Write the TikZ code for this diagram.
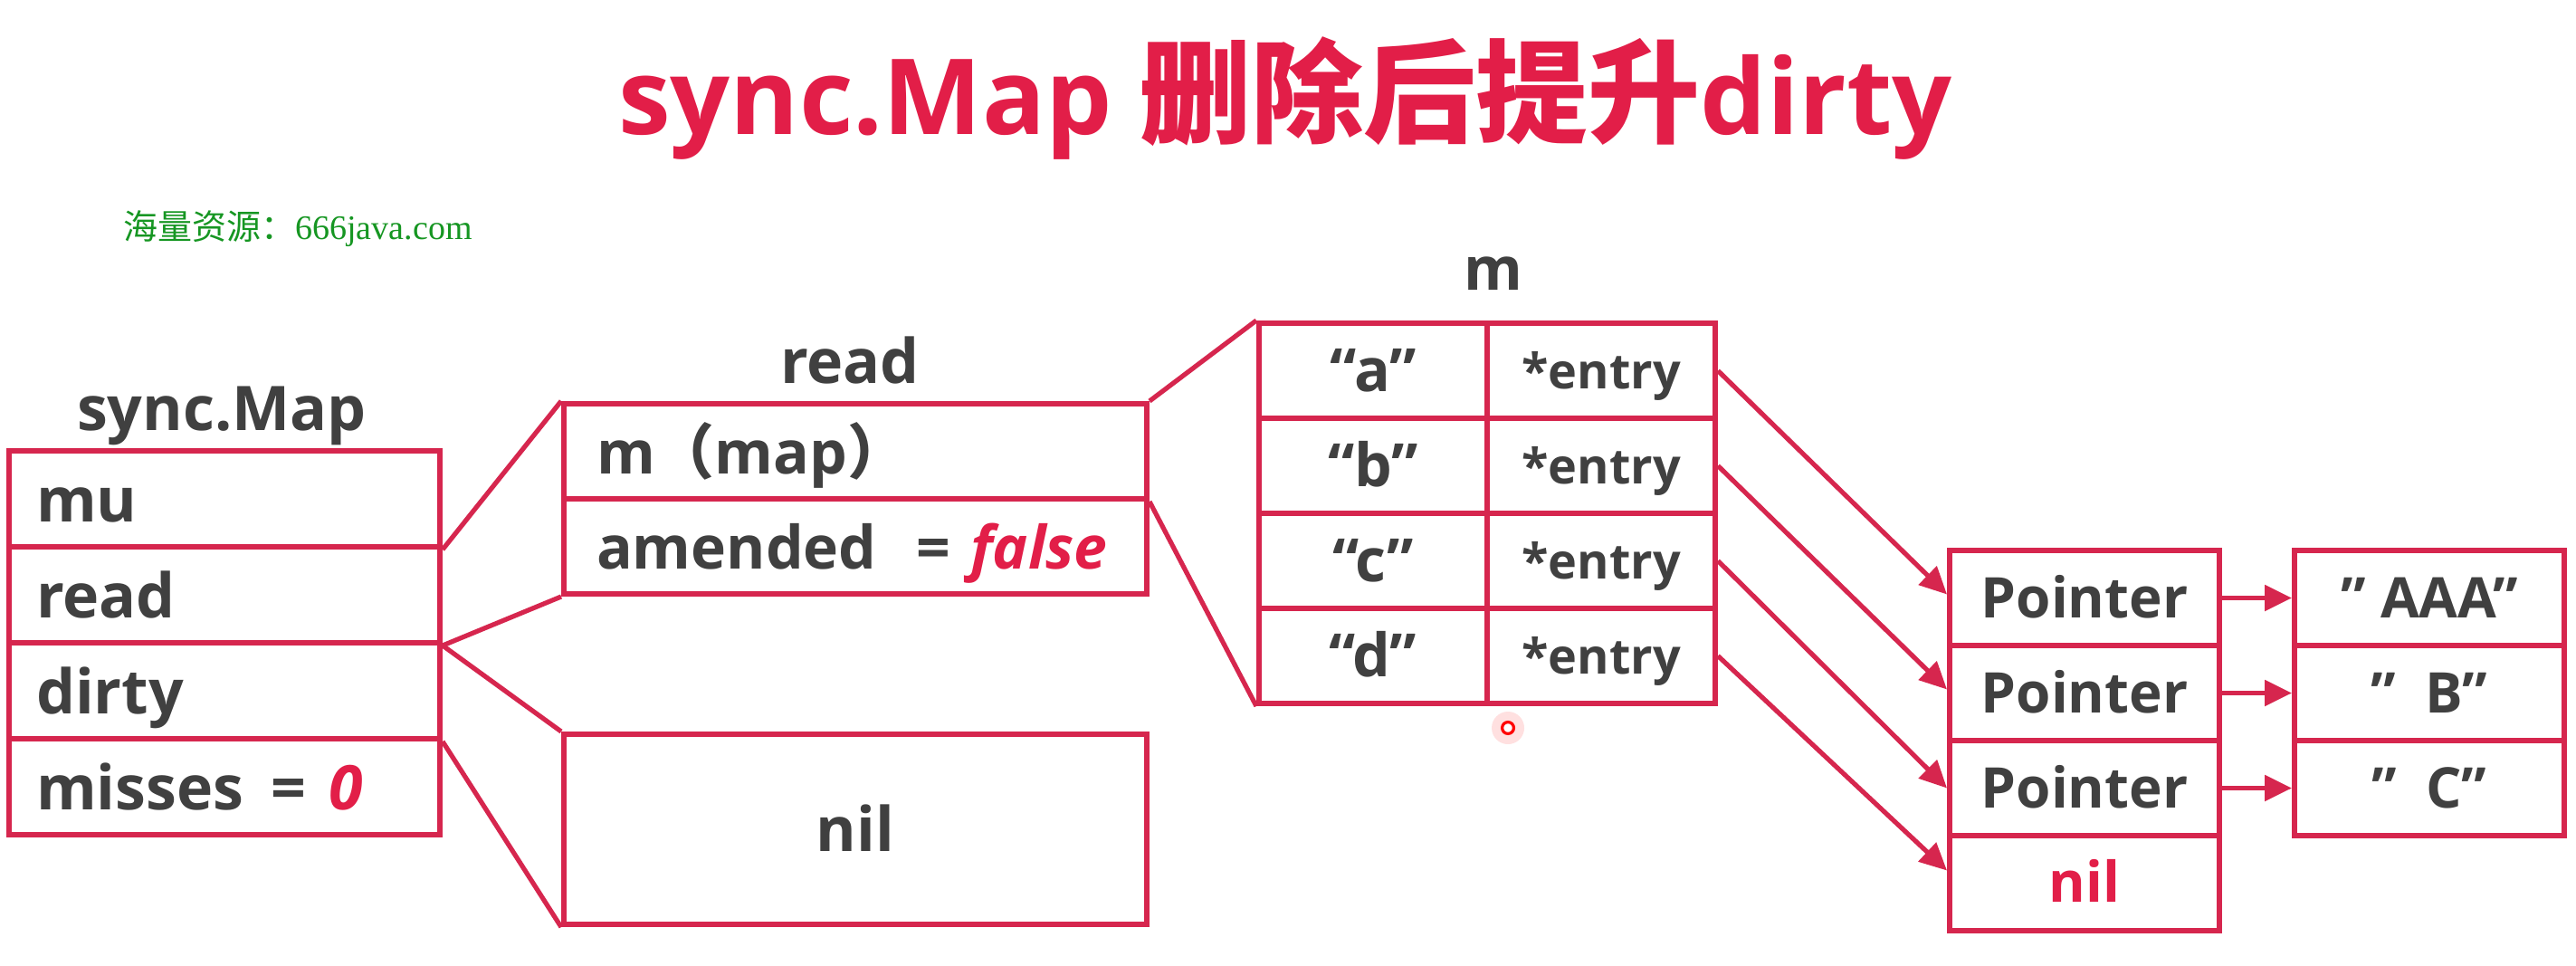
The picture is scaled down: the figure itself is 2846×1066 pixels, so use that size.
\documentclass[tikz,border=0pt]{standalone}
\usepackage{fontspec}
\setmainfont{Open Sans}
\newfontfamily\cjk{Noto Sans CJK SC}
\newfontfamily\wmserif{Liberation Serif}
\usetikzlibrary{arrows.meta}
\definecolor{boxred}{RGB}{214,38,78}
\definecolor{titlered}{RGB}{226,30,72}
\definecolor{txtgray}{RGB}{64,64,64}
\definecolor{wmgreen}{RGB}{22,150,34}
\tikzset{
  cell/.style={draw=boxred, line width=3pt, inner sep=0pt, text=txtgray,
    font=\bfseries\fontsize{33}{40}\selectfont},
  smrow/.style={cell, minimum height=53pt, text width=208pt, inner xsep=15pt,
    align=left, text height=28pt, text depth=3pt,
    font=\bfseries\fontsize{34}{40}\selectfont},
  rdrow/.style={cell, minimum height=52.5pt, text width=286pt, inner xsep=18pt,
    align=left, text height=28pt, text depth=3pt},
  nilbox/.style={cell, minimum width=322pt, minimum height=105pt,
    font=\bfseries\fontsize{34}{42}\selectfont, text height=27pt, text depth=3pt},
  keycell/.style={cell, minimum width=126pt, minimum height=52.5pt,
    text height=26pt, text depth=3pt},
  entrycell/.style={cell, minimum width=126pt, minimum height=52.5pt,
    font=\bfseries\fontsize{27}{32}\selectfont, text height=23pt, text depth=3pt},
  ptrcell/.style={cell, minimum width=149pt, minimum height=52.5pt,
    font=\bfseries\fontsize{31}{38}\selectfont, text height=25pt, text depth=3pt},
  lbl/.style={text=txtgray, font=\bfseries\fontsize{34}{42}\selectfont,
    inner sep=0pt, anchor=base},
  conn/.style={draw=boxred, line width=2.6pt},
  arr/.style={conn, -{Triangle[length=15pt,width=14pt]}},
}
\begin{document}
\begin{tikzpicture}[x=0.5pt,y=-0.5pt]
\useasboundingbox[fill=white] (0,0) rectangle (2846,1066);

% title and watermark
\node[anchor=base, inner sep=0pt, text=titlered,
  font=\bfseries\fontsize{58}{70}\selectfont] (title) at (1420,148)
  {sync.Map {\cjk\fontsize{62}{70}\selectfont 删除后提升}dirty};
\node[anchor=base, inner sep=0pt, text=wmgreen,
  font=\fontsize{19}{23}\selectfont] (wm) at (329,264)
  {{\cjk 海量资源：}\wmserif 666java.com};

% sync.Map struct
\node[lbl] (smlbl) at (245,475) {sync.Map};
\node[smrow] (sm1) at (248,551) {mu};
\node[smrow] (sm2) at (248,657) {read};
\node[smrow] (sm3) at (248,763) {dirty};
\node[smrow] (sm4) at (248,869) {misses\hspace{15pt}=\hspace{13pt}\textcolor{titlered}{\itshape 0}};

% read struct
\node[lbl] (rdlbl) at (939,423) {read};
\node[rdrow] (rd1) at (945,498.5) {m{\cjk （}map{\cjk ）}};
\node[rdrow] (rd2) at (945,603.5) {amended\ \ =\ \textcolor{titlered}{\itshape false}};

% dirty = nil
\node[nilbox] (nb) at (945,916) {nil};

% map m
\node[lbl, font=\bfseries\fontsize{33}{40}\selectfont] (mlbl) at (1650,320) {m};
\node[keycell] (k1) at (1517,409.5) {“a”};
\node[keycell] (k2) at (1517,514.5) {“b”};
\node[keycell] (k3) at (1517,619.5) {“c”};
\node[keycell] (k4) at (1517,724.5) {“d”};
\node[entrycell] (e1) at (1769,409.5) {*entry};
\node[entrycell] (e2) at (1769,514.5) {*entry};
\node[entrycell] (e3) at (1769,619.5) {*entry};
\node[entrycell] (e4) at (1769,724.5) {*entry};

% pointers
\node[ptrcell] (p1) at (2303,660.5) {Pointer};
\node[ptrcell] (p2) at (2303,765.5) {Pointer};
\node[ptrcell] (p3) at (2303,870.5) {Pointer};
\node[ptrcell, text=titlered, text height=24pt] (p4) at (2303,975.5) {nil};

% values
\node[ptrcell] (v1) at (2684,660.5) {”\ AAA”};
\node[ptrcell] (v2) at (2684,765.5) {”\ \ B”};
\node[ptrcell] (v3) at (2684,870.5) {”\ \ C”};

% connectors
\draw[conn] (sm1.south east) -- (rd1.north west);
\draw[conn] (sm2.south east) -- (rd2.south west);
\draw[conn] (sm2.south east) -- (nb.north west);
\draw[conn] (sm3.south east) -- (nb.south west);
\draw[conn] (rd1.north east) -- (k1.north west);
\draw[conn] (rd1.south east) -- (k4.south west);

\draw[arr] (e1.east) -- ([yshift=2pt]p1.west);
\draw[arr] (e2.east) -- ([yshift=2pt]p2.west);
\draw[arr] (e3.east) -- (p3.west);
\draw[arr] (e4.east) -- ([yshift=7pt]p4.west);

\draw[arr] (p1.east) -- (v1.west);
\draw[arr] (p2.east) -- (v2.west);
\draw[arr] (p3.east) -- (v3.west);

% laser pointer dot
\fill[red!12] (1666,804) circle (9pt);
\draw[red, line width=1.6pt, fill=white] (1666,804) circle (3.2pt);
\end{tikzpicture}
\end{document}
